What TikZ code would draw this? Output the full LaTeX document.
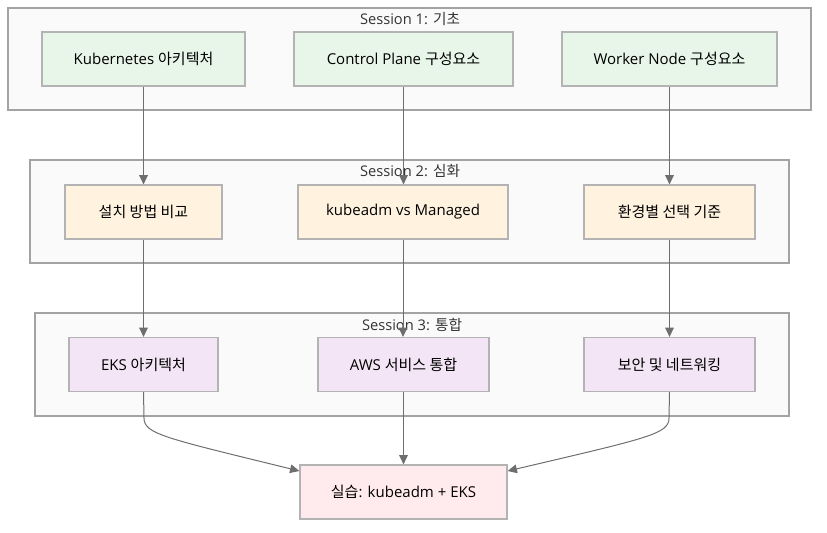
\documentclass[tikz,border=0pt]{standalone}
\usepackage{fontspec}
\setmainfont{Open Sans}
\newfontfamily\kr{Noto Sans CJK KR}
\usetikzlibrary{arrows.meta}
\definecolor{sessfill}{HTML}{FAFAFA}
\definecolor{sessline}{HTML}{A3A3A3}
\definecolor{boxline}{HTML}{B3B3B3}
\definecolor{gfill}{HTML}{E8F5E9}
\definecolor{ofill}{HTML}{FFF3E0}
\definecolor{pfill}{HTML}{F3E5F5}
\definecolor{rfill}{HTML}{FFEBEE}
\definecolor{arr}{HTML}{6E6E6E}
\tikzset{
  sess/.style={draw=sessline, line width=1pt, fill=sessfill, inner sep=0pt},
  slabel/.style={font=\fontsize{11pt}{13pt}\selectfont, text=black!80, inner sep=0pt},
  box/.style={draw=boxline, line width=0.9pt, inner sep=0pt, minimum height=40.5pt,
    font=\fontsize{11.25pt}{13pt}\selectfont, text=black},
  gbox/.style={box, fill=gfill},
  obox/.style={box, fill=ofill},
  pbox/.style={box, fill=pfill},
  rbox/.style={box, fill=rfill},
  conn/.style={draw=arr, line width=0.75pt, -{Triangle[length=7pt,width=6.5pt]}}
}
\begin{document}
\begin{tikzpicture}[x=0.75pt,y=-0.75pt]
\useasboundingbox (0,0) rectangle (827,532);
% sessions
\node[sess, minimum width=602.25pt, minimum height=76.5pt] (s1) at (409.5,59) {};
\node[slabel] (s1l) at (410,19) {Session 1: {\kr 기초}};
\node[sess, minimum width=569.25pt, minimum height=77.25pt] (s2) at (409.5,211.5) {};
\node[slabel] (s2l) at (410,171) {Session 2: {\kr 심화}};
\node[sess, minimum width=565.5pt, minimum height=77.25pt] (s3) at (412,364.5) {};
\node[slabel] (s3l) at (412,325) {Session 3: {\kr 통합}};
% row 1
\node[gbox, minimum width=152.25pt] (k) at (143.5,59) {Kubernetes {\kr 아키텍처}};
\node[gbox, minimum width=164.25pt] (cp) at (403.5,59) {Control Plane {\kr 구성요소}};
\node[gbox, minimum width=161.25pt] (wn) at (669.5,59) {Worker Node {\kr 구성요소}};
% row 2
\node[obox, minimum width=117.75pt] (inst) at (143.5,212) {\kr 설치 방법 비교};
\node[obox, minimum width=157.5pt] (kvm) at (403,212) {kubeadm vs Managed};
\node[obox, minimum width=128.25pt] (env) at (669.5,212) {\kr 환경별 선택 기준};
% row 3
\node[pbox, minimum width=111.75pt] (eks) at (143.5,364.5) {EKS {\kr 아키텍처}};
\node[pbox, minimum width=128.25pt] (aws) at (403.5,364.5) {AWS {\kr 서비스 통합}};
\node[pbox, minimum width=128.25pt] (sec) at (669.5,364.5) {\kr 보안 및 네트워킹};
% final
\node[rbox, minimum width=155.25pt] (lab) at (403.5,492) {{\kr 실습}: kubeadm + EKS};
% connectors
\draw[conn] (k.south) -- (inst.north);
\draw[conn] (cp.south) -- (cp.south |- kvm.north);
\draw[conn] (wn.south) -- (env.north);
\draw[conn] (inst.south) -- (eks.north);
\draw[conn] (kvm.south) -- (kvm.south |- aws.north);
\draw[conn] (env.south) -- (sec.north);
\draw[conn] (aws.south) -- (lab.north);
\coordinate (ea) at (144,418);
\coordinate (sa) at (669,418);
\coordinate (lw) at ([yshift=15.75pt]lab.west);
\coordinate (le) at ([yshift=15.75pt]lab.east);
\draw[conn] (eks.south) -- (ea) .. controls (144,434) and (165,438) .. (lw);
\draw[conn] (sec.south) -- (sa) .. controls (669,434) and (648,438) .. (le);
\end{tikzpicture}
\end{document}
